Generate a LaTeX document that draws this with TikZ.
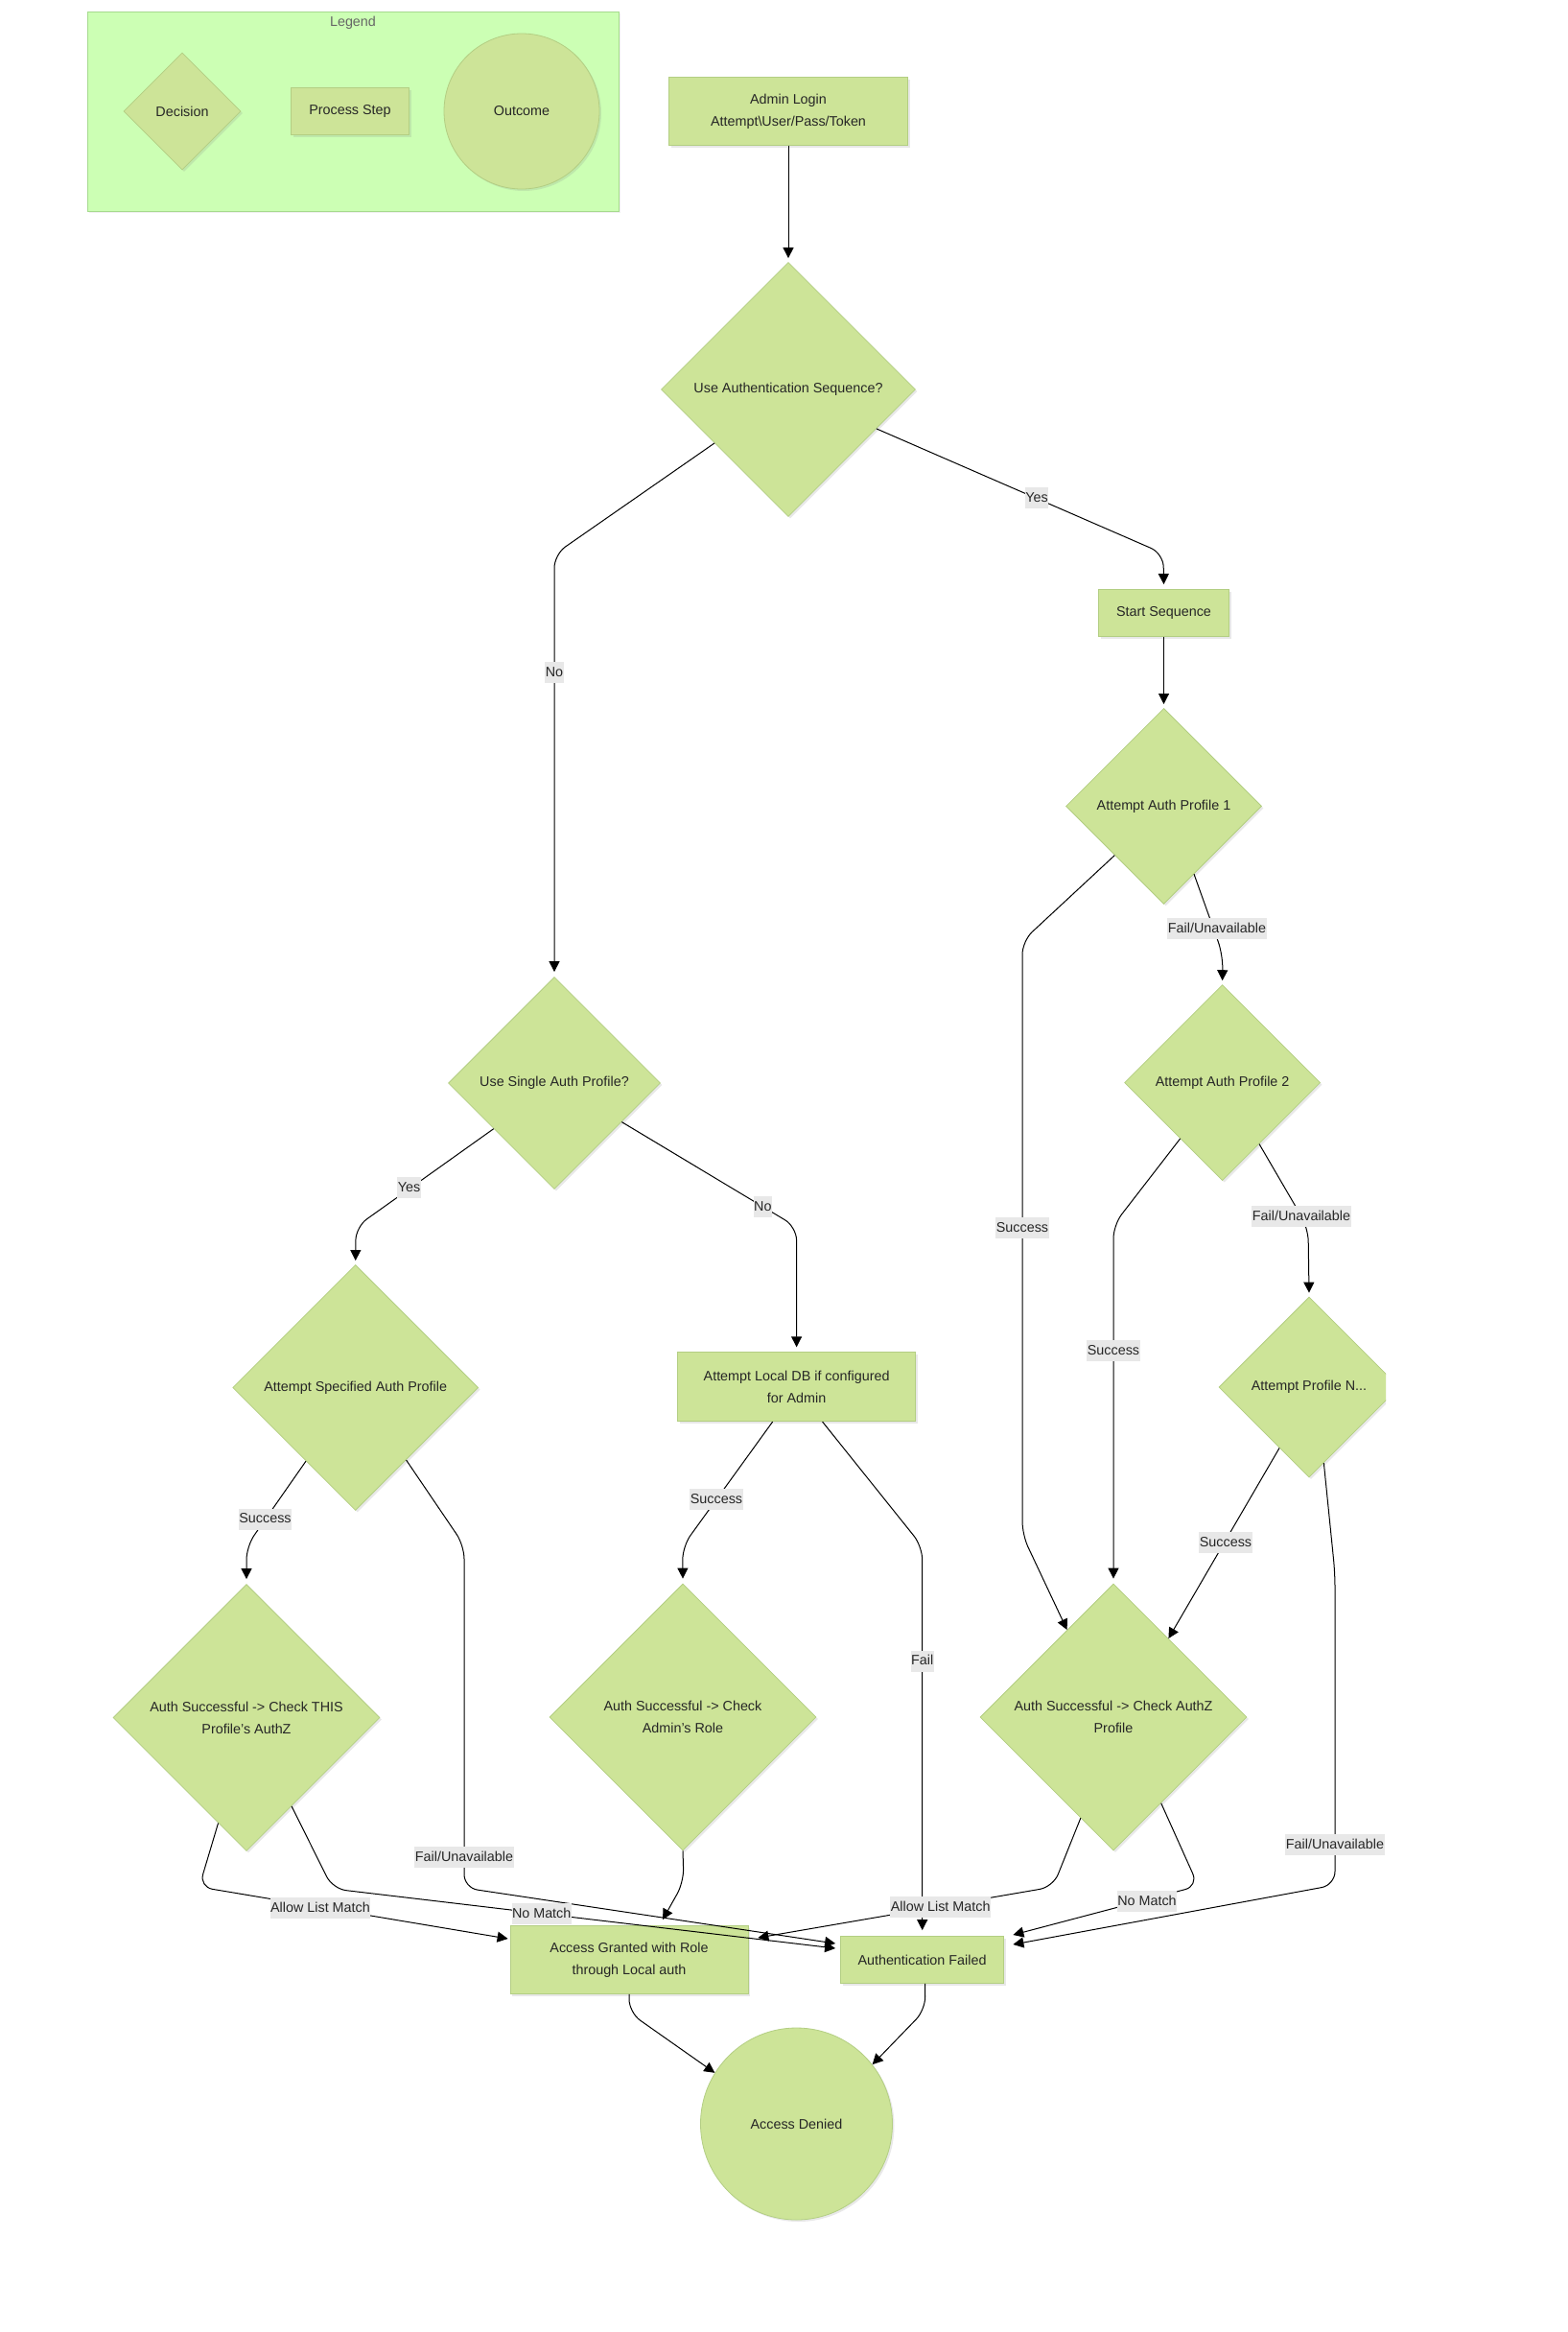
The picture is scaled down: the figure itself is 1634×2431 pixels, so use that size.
\documentclass[tikz,border=0pt]{standalone}
\usepackage{fontspec}
\setmainfont{Liberation Sans}
\usetikzlibrary{shapes.geometric,arrows.meta,shadows,calc}
\definecolor{nodefill}{HTML}{CDE498}
\definecolor{nodeline}{HTML}{B3CE83}
\definecolor{legfill}{HTML}{CCFFB4}
\definecolor{legline}{HTML}{A6DA8E}
\definecolor{lblfill}{HTML}{E8E8E8}
\begin{document}
\begin{tikzpicture}[x=1pt,y=-1pt,
  base/.style={fill=nodefill, draw=nodeline, line width=0.8pt, font=\fontsize{14.35}{23}\selectfont, text=black!85, align=center, inner sep=0pt, drop shadow={shadow xshift=2pt,shadow yshift=-2pt,opacity=0.18}},
  dec/.style={base, diamond, aspect=1, minimum width=#1, minimum height=#1},
  proc/.style 2 args={base, rectangle, minimum width=#1, minimum height=#2},
  outc/.style={base, circle, minimum size=#1},
  conn/.style={draw=black, line width=1pt, rounded corners=14pt, -{Triangle[length=11pt,width=11pt]}},
  lbl/.style={fill=lblfill, text=black!85, font=\fontsize{14.35}{17}\selectfont, inner xsep=0.5pt, inner ysep=4pt, text height=11pt, text depth=3pt}]
\useasboundingbox (0,0) rectangle (1634,2431);

% legend
\node[fill=legfill, draw=legline, line width=0.8pt, minimum width=554, minimum height=208, inner sep=0pt, drop shadow={shadow xshift=2pt,shadow yshift=-2pt,opacity=0.12}] (leg) at (368,116) {};
\node[font=\fontsize{14.35}{17}\selectfont, text=black!60] (legt) at (368,24) {Legend};
\node[dec=122] (ld) at (190,116) {Decision};
\node[proc={123}{49}] (lp) at (365,116) {Process Step};
\node[outc=162] (lo) at (544,116) {Outcome};

% nodes
\node[proc={249}{71}] (al) at (822,116) {Admin Login\\Attempt\textbackslash User/Pass/Token};
\node[dec=265] (d1) at (822,406) {Use Authentication Sequence?};
\node[proc={136}{49}] (ss) at (1213.5,639) {Start Sequence};
\node[dec=204] (d2) at (1213.5,840.4) {Attempt Auth Profile 1};
\node[dec=204] (d3) at (1274.6,1128.6) {Attempt Auth Profile 2};
\begin{scope}
\clip (0,0) rectangle (1445,2431);
\node[dec=188] (d4) at (1365,1446) {Attempt Profile N...};
\end{scope}
\node[dec=221] (d5) at (578,1129) {Use Single Auth Profile?};
\node[dec=256] (d6) at (370.7,1446.5) {Attempt Specified Auth Profile};
\node[proc={248}{72}] (ldb) at (830.6,1445.7) {Attempt Local DB if configured\\for Admin};
\node[dec=278] (d7) at (257,1790.5) {Auth Successful -> Check THIS\\Profile's AuthZ};
\node[dec=278] (d8) at (712,1790) {Auth Successful -> Check\\Admin's Role};
\node[dec=278] (d9) at (1161,1790) {Auth Successful -> Check AuthZ\\Profile};
\node[proc={248}{71}] (ag) at (656,2043) {Access Granted with Role\\through Local auth};
\node[proc={170}{49}] (af) at (961.5,2043) {Authentication Failed};
\node[outc=200] (ad) at (830.5,2214) {Access Denied};

% connectors
\draw[conn] (al.south) -- ($(d1.north)+(0,-4)$);
\draw[conn] (d1.-24) -- (1213,577) -- ($(ss.north)+(0,-5)$);
\draw[conn] (d1.-144.3) -- (578,578) -- ($(d5.north)+(0,-5)$);
\draw[conn] (ss.south) -- ($(d2.north)+(0,-4)$);
\draw[conn] (d2.-66.1) -- (1275,995) -- ($(d3.north)+(0,-4)$);
\draw[conn] (d2.-135.5) -- (1066,981) -- (1066,1600) -- (d9.118.7);
\draw[conn] (d3.-59.2) -- (1364,1280) -- ($(d4.north)+(0,-4)$);
\draw[conn] (d3.-127) -- (1161,1277) -- ($(d9.north)+(0,-5)$);
\draw[conn] (d4.-116.6) -- (d9.55.6);
\draw[conn] (d4.-79.8) -- (1392,1640) -- (1392,1965) -- ($(af.east)+(9.5,-16)$);
\draw[conn] (d5.-143.8) -- (371,1279) -- ($(d6.north)+(0,-4)$);
\draw[conn] (d5.-30.7) -- (830.6,1279) -- ($(ldb.north)+(0,-5)$);
\draw[conn] (d6.-124.4) -- (257,1612) -- ($(d7.north)+(0,-5)$);
\draw[conn] (d6.-55.6) -- (484,1611) -- (484,1968) -- ($(af.west)+(-5,-17)$);
\draw[conn] ($(ldb.south)+(-25,0)$) -- (711.7,1612) -- ($(d8.north)+(0,-5)$);
\draw[conn] ($(ldb.south)+(27,0)$) -- (961.7,1612) -- ($(af.north)+(0.2,-6)$);
\draw[conn] (d7.-105.3) -- (207.7,1967) -- ($(ag.west)+(-2,-22)$);
\draw[conn] (d7.-63.7) -- (347,1969) -- ($(af.west)+(-5,-12)$);
\draw[conn] (d8.south) -- (713,1962) -- ($(ag.north)+(35,-6)$);
\draw[conn] (d9.-108.8) -- (1098,1967) -- ($(ag.east)+(10,-23)$);
\draw[conn] (d9.-61.8) -- (1249.5,1966) -- ($(af.east)+(9.5,-26)$);
\draw[conn] (ag.south) -- (656,2098) -- (ad.148);
\draw[conn] ($(af.south)+(3,0)$) -- (965,2095) -- (ad.38);

% labels
\node[lbl] (lyes1) at (1081,519) {Yes};
\node[lbl] (lno1) at (578,701) {No};
\node[lbl] (lf1) at (1269,968) {Fail/Unavailable};
\node[lbl] (ls1) at (1066,1280) {Success};
\node[lbl] (lf2) at (1357,1268) {Fail/Unavailable};
\node[lbl] (ls2) at (1161,1408) {Success};
\node[lbl] (ls3) at (1278,1608) {Success};
\node[lbl] (lf3) at (1392,1923) {Fail/Unavailable};
\node[lbl] (lyes2) at (426.5,1238) {Yes};
\node[lbl] (lno2) at (795.4,1258) {No};
\node[lbl] (ls4) at (276.5,1583.5) {Success};
\node[lbl] (lf4) at (484,1936) {Fail/Unavailable};
\node[lbl] (ls5) at (747,1563) {Success};
\node[lbl] (lfail) at (961.7,1731.5) {Fail};
\node[lbl] (la1) at (334,1989) {Allow List Match};
\node[lbl] (lnm1) at (564.7,1995) {No Match};
\node[lbl] (la2) at (980.7,1988) {Allow List Match};
\node[lbl] (lnm2) at (1196,1982) {No Match};
\end{tikzpicture}
\end{document}
